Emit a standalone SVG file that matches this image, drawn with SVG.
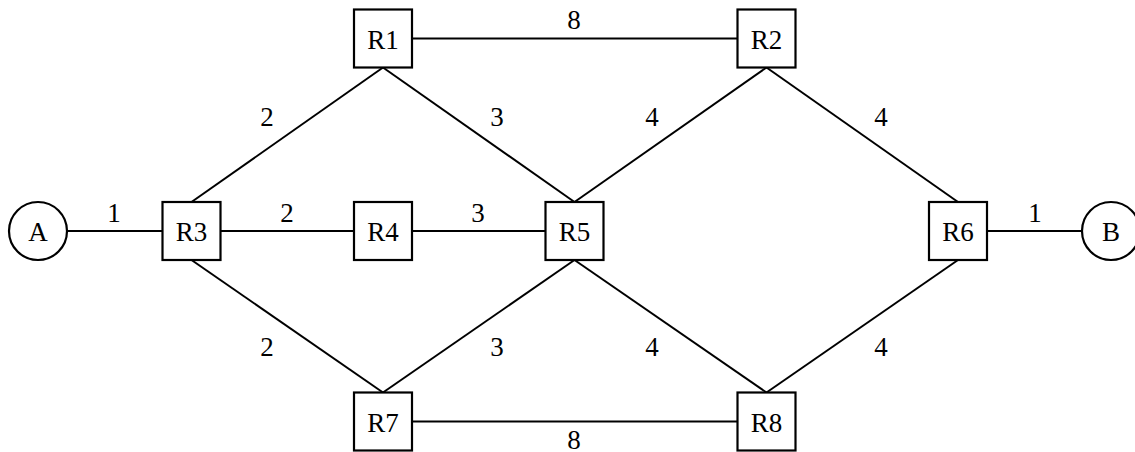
<svg xmlns="http://www.w3.org/2000/svg" width="1135" height="452" viewBox="0 0 1135 452">
<style>
.box{fill:#fff;stroke:#000;stroke-width:2.2}
.edge{stroke:#000;stroke-width:2;fill:none}
text{font-family:"Liberation Serif","DejaVu Serif",serif;font-size:27px;fill:#000}
.n{text-anchor:middle;dominant-baseline:central}
.w{text-anchor:middle}
</style>
<rect width="1135" height="452" fill="#fff"/>
<g id="connectors">
<line class="edge" x1="67" y1="231" x2="162.5" y2="231"/>
<line class="edge" x1="220.5" y1="231" x2="354" y2="231"/>
<line class="edge" x1="412" y1="231" x2="545.5" y2="231"/>
<line class="edge" x1="987" y1="231" x2="1082" y2="231"/>
<line class="edge" x1="412" y1="38.5" x2="737.5" y2="38.5"/>
<line class="edge" x1="412" y1="421.5" x2="737.5" y2="421.5"/>
<line class="edge" x1="191.5" y1="202" x2="383" y2="67.5"/>
<line class="edge" x1="191.5" y1="260" x2="383" y2="392.5"/>
<line class="edge" x1="383" y1="67.5" x2="574.5" y2="202"/>
<line class="edge" x1="383" y1="392.5" x2="574.5" y2="260"/>
<line class="edge" x1="574.5" y1="202" x2="766.5" y2="67.5"/>
<line class="edge" x1="574.5" y1="260" x2="766.5" y2="392.5"/>
<line class="edge" x1="766.5" y1="67.5" x2="958" y2="202"/>
<line class="edge" x1="766.5" y1="392.5" x2="958" y2="260"/>
</g>
<g id="weights">
<text class="w" x="114" y="222">1</text>
<text class="w" x="287" y="222">2</text>
<text class="w" x="478" y="222">3</text>
<text class="w" x="1035" y="222">1</text>
<text class="w" x="574" y="29">8</text>
<text class="w" x="574" y="449">8</text>
<text class="w" x="267" y="126">2</text>
<text class="w" x="497" y="126">3</text>
<text class="w" x="652" y="126">4</text>
<text class="w" x="881" y="126">4</text>
<text class="w" x="267" y="356">2</text>
<text class="w" x="497" y="356">3</text>
<text class="w" x="652" y="356">4</text>
<text class="w" x="881" y="356">4</text>
</g>
<g id="A"><circle class="box" cx="38" cy="231" r="29"/><text class="n" x="38" y="232">A</text></g>
<g id="B"><circle class="box" cx="1111" cy="231" r="29"/><text class="n" x="1111" y="232">B</text></g>
<g id="R3"><rect class="box" x="162.5" y="202" width="58" height="58"/><text class="n" x="191.5" y="232">R3</text></g>
<g id="R1"><rect class="box" x="354" y="9.5" width="58" height="58"/><text class="n" x="383" y="39.5">R1</text></g>
<g id="R4"><rect class="box" x="354" y="202" width="58" height="58"/><text class="n" x="383" y="232">R4</text></g>
<g id="R7"><rect class="box" x="354" y="392.5" width="58" height="58"/><text class="n" x="383" y="422.5">R7</text></g>
<g id="R5"><rect class="box" x="545.5" y="202" width="58" height="58"/><text class="n" x="574.5" y="232">R5</text></g>
<g id="R2"><rect class="box" x="737.5" y="9.5" width="58" height="58"/><text class="n" x="766.5" y="39.5">R2</text></g>
<g id="R8"><rect class="box" x="737.5" y="392.5" width="58" height="58"/><text class="n" x="766.5" y="422.5">R8</text></g>
<g id="R6"><rect class="box" x="929" y="202" width="58" height="58"/><text class="n" x="958" y="232">R6</text></g>
</svg>
